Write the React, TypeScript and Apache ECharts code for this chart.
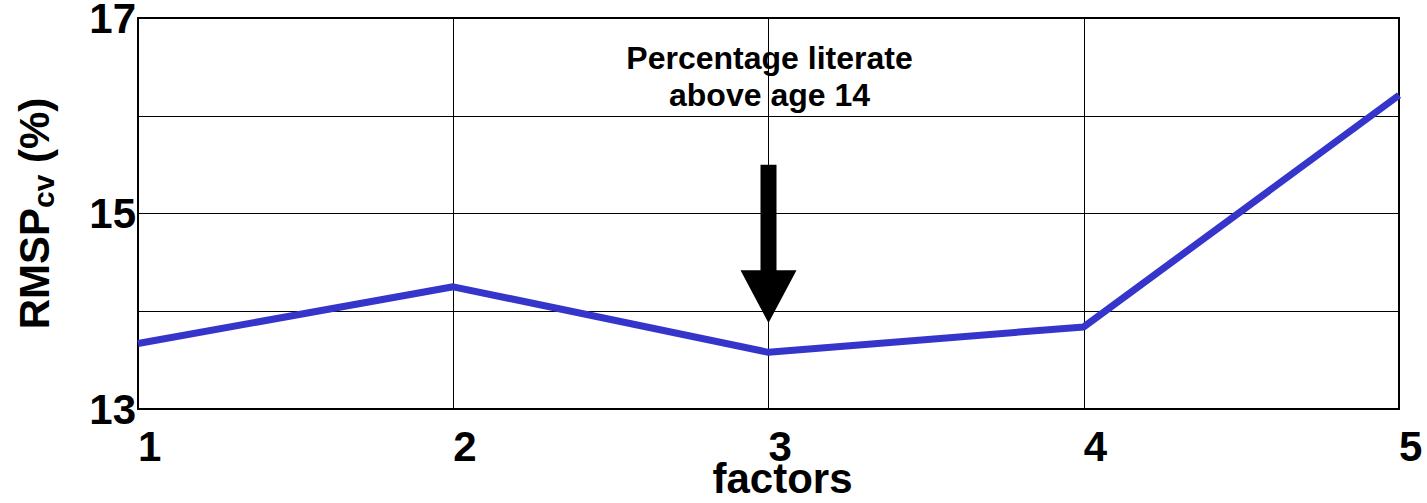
import React, { useEffect, useRef } from "react";
import * as echarts from "echarts";

// Number of factors on the x axis and the cross-validated RMSP (%) for each
const factors = [1, 2, 3, 4, 5];
const rmspCv = [13.67, 14.25, 13.58, 13.84, 16.21];

// Y tick labels shown (grid lines at every integer)
const yLabelTicks = [13, 15, 17];

// Arrow marking the chosen factor: [factor, shaftTop, headBase, tip]
const arrowMark = [[3, 15.5, 14.42, 13.88]];
// Annotation above the arrow: [factor, y]
const noteAnchor = [[3, 16.4]];
const noteText = "Percentage literate\nabove age 14";

const FONT = '"Liberation Sans", Arial, Helvetica, sans-serif';

export default function App() {
  const ref = useRef<HTMLDivElement>(null);

  useEffect(() => {
    document.body.style.margin = "0";
    const chart = echarts.init(ref.current!, null, { renderer: "svg" });
    chart.setOption({
      animation: false,
      backgroundColor: "#ffffff",
      grid: {
        left: 138,
        right: 28,
        top: 18,
        bottom: 94,
        outerBoundsMode: "none",
        containLabel: false,
        show: true,
        borderColor: "#000",
        borderWidth: 2,
      },
      xAxis: {
        type: "value",
        min: 1,
        max: 5,
        interval: 1,
        name: "factors",
        nameLocation: "middle",
        nameGap: 54,
        nameMoveOverlap: false,
        nameTextStyle: {
          fontFamily: FONT,
          fontWeight: "bold",
          fontSize: 42,
          lineHeight: 30,
          color: "#000",
          padding: [0, 0, 0, 28],
        },
        axisLine: { show: true, lineStyle: { color: "#000", width: 2 } },
        axisTick: { show: false },
        splitLine: { show: true, lineStyle: { color: "#000", width: 1 } },
        axisLabel: {
          fontFamily: FONT,
          fontWeight: "bold",
          fontSize: 42,
          lineHeight: 32,
          color: "#000",
          align: "left",
          margin: 21,
          showMinLabel: true,
          showMaxLabel: true,
        },
      },
      yAxis: {
        type: "value",
        min: 13,
        max: 17,
        interval: 1,
        name: "{a|RMSP}{b|cv}{a| (%)}",
        nameLocation: "middle",
        nameGap: 80,
        nameRotate: 90,
        nameMoveOverlap: false,
        nameTextStyle: {
          color: "#000",
          rich: {
            a: { fontFamily: FONT, fontWeight: "bold", fontSize: 42, color: "#000", lineHeight: 48 },
            b: {
              fontFamily: FONT,
              fontWeight: "bold",
              fontSize: 30,
              color: "#000",
              verticalAlign: "bottom",
              lineHeight: 34,
              padding: [16, 0, 0, 0],
            },
          },
        },
        axisLine: { show: true, lineStyle: { color: "#000", width: 2 } },
        axisTick: { show: false },
        splitLine: { show: true, lineStyle: { color: "#000", width: 1 } },
        axisLabel: {
          fontFamily: FONT,
          fontWeight: "bold",
          fontSize: 42,
          lineHeight: 24,
          color: "#000",
          margin: 2,
          padding: [12, 0, 0, 0],
          formatter: (v: number) => (yLabelTicks.includes(v) ? String(v) : ""),
        },
      },
      series: [
        {
          type: "line",
          data: factors.map((f, i) => [f, rmspCv[i]]),
          symbol: "none",
          lineStyle: { color: "#3535cc", width: 7 },
          z: 3,
        },
        {
          type: "custom",
          data: arrowMark,
          z: 4,
          renderItem: (_p: any, api: any) => {
            const top = api.coord([api.value(0), api.value(1)]);
            const base = api.coord([api.value(0), api.value(2)]);
            const tip = api.coord([api.value(0), api.value(3)]);
            return {
              type: "group",
              children: [
                {
                  type: "rect",
                  shape: { x: top[0] - 8, y: top[1], width: 16, height: base[1] - top[1] + 1 },
                  style: { fill: "#000" },
                },
                {
                  type: "polygon",
                  shape: {
                    points: [
                      [base[0] - 28, base[1]],
                      [base[0] + 28, base[1]],
                      [tip[0], tip[1]],
                    ],
                  },
                  style: { fill: "#000" },
                },
              ],
            };
          },
        },
        {
          type: "custom",
          data: noteAnchor,
          z: 4,
          renderItem: (_p: any, api: any) => {
            const pt = api.coord([api.value(0), api.value(1)]);
            return {
              type: "text",
              x: pt[0] + 1,
              y: pt[1],
              style: {
                text: noteText,
                fill: "#000",
                font: `bold 32px ${FONT}`,
                align: "center",
                verticalAlign: "middle",
                lineHeight: 37,
              },
            };
          },
        },
      ],
    });
    return () => chart.dispose();
  }, []);

  return <div ref={ref} style={{ width: 1427, height: 503 }} />;
}
